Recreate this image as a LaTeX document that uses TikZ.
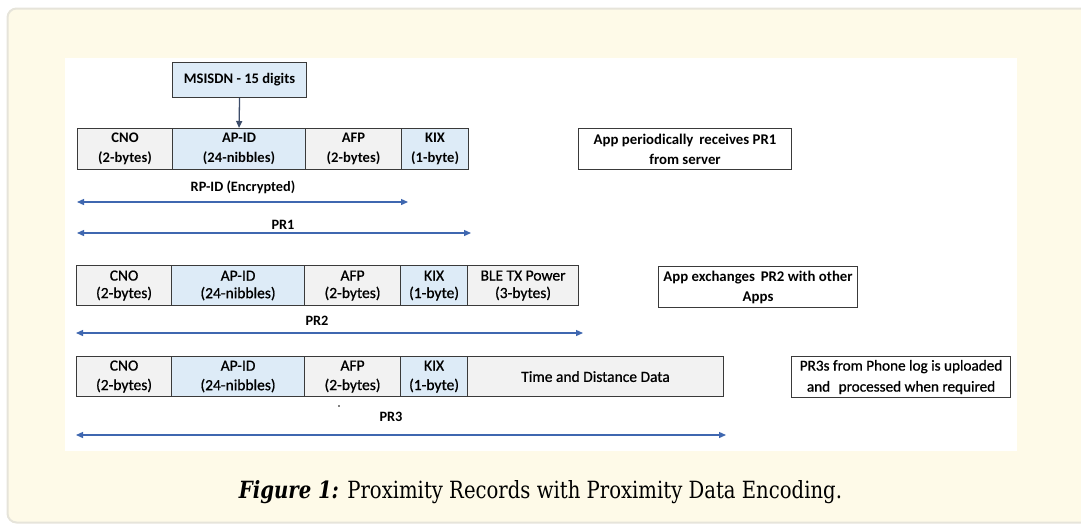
\documentclass[tikz,border=0pt]{standalone}
\usepackage{fontspec}
\usepackage{graphicx}
\setmainfont{Carlito}
\newfontfamily\semib[FakeBold=0.8]{Carlito}
\newfontfamily\capfont{DejaVu Serif}
\usetikzlibrary{arrows.meta}
\definecolor{cream}{HTML}{FEFAE8}
\definecolor{cardline}{HTML}{E6E4DA}
\definecolor{cellgray}{HTML}{F2F2F2}
\definecolor{cellblue}{HTML}{DDEBF7}
\definecolor{edge}{HTML}{3A3A3A}
\definecolor{arrblue}{HTML}{3F67B0}
\tikzset{
  cellbase/.style={draw=edge, line width=1.1pt, inner sep=0pt, anchor=north west, align=center,
    font=\semib\fontsize{15.5}{19.5}\selectfont},
  cg/.style={cellbase, fill=cellgray},
  cb/.style={cellbase, fill=cellblue},
  bcell/.style={font=\bfseries\fontsize{14.6}{19.5}\selectfont},
  tight/.style={font=\semib\fontsize{15.5}{17.5}\selectfont},
  note/.style={draw=edge, line width=1.1pt, fill=white, inner sep=0pt, anchor=north west, align=center,
    font=\bfseries\fontsize{14.8}{20}\selectfont},
  lbl/.style={font=\bfseries\fontsize{14.3}{16}\selectfont, inner sep=0pt},
  arr/.style={draw=arrblue, line width=1.3pt, -{Triangle[length=7pt,width=6pt]}},
  darr/.style={draw=arrblue, line width=1.3pt, {Triangle[length=7pt,width=6pt]}-{Triangle[length=7pt,width=6pt]}},
}
\begin{document}
\begin{tikzpicture}[x=1pt,y=-1pt]
\useasboundingbox (0,0) rectangle (1081,525);
\begin{scope}
\clip (0,0) rectangle (1081,525);
\draw[fill=cream, draw=cardline, line width=2pt, rounded corners=9pt] (7.5,8.5) rectangle (1100,522.5);
\end{scope}
\fill[white] (65,58) rectangle (1017,451);

% MSISDN
\node[cb, bcell, minimum width=134, minimum height=35] (ms) at (172,62) {MSISDN - 15 digits};

% Row 1
\node[cg, bcell, minimum width=95, minimum height=41] (cno1) at (77,128) {CNO\\(2-bytes)};
\node[cb, bcell, minimum width=133, minimum height=41] (ap1) at (172,128) {AP-ID\\(24-nibbles)};
\node[cg, bcell, minimum width=96, minimum height=41] (afp1) at (305,128) {AFP\\(2-bytes)};
\node[cb, bcell, minimum width=67, minimum height=41] (kix1) at (401,128) {KIX\\(1-byte)};
\draw[arr, draw=edge!60!arrblue] (ms.south) -- (ap1.north);

\node[note, minimum width=213, minimum height=41] (n1) at (578,128) {App periodically\, receives PR1\\from server};

\node[lbl] (rp) at (243,187) {RP-ID (Encrypted)};
\coordinate (rpL) at (77,202);
\coordinate (rpR) at (408,202);
\draw[darr] (rpL) -- (rpR);
\node[lbl] (pr1) at (283,225) {PR1};
\coordinate (p1L) at (77,233);
\coordinate (p1R) at (471,233);
\draw[darr] (p1L) -- (p1R);

% Row 2
\node[cg, tight, minimum width=95, minimum height=40] (cno2) at (76,265) {CNO\\(2-bytes)};
\node[cb, tight, minimum width=133, minimum height=40] (ap2) at (171,265) {AP-ID\\(24-nibbles)};
\node[cg, tight, minimum width=96, minimum height=40] (afp2) at (304,265) {AFP\\(2-bytes)};
\node[cb, tight, minimum width=67, minimum height=40] (kix2) at (400,265) {KIX\\(1-byte)};
\node[cg, tight, minimum width=111, minimum height=40] (ble2) at (467,265) {BLE TX Power\\(3-bytes)};

\node[note, minimum width=199, minimum height=41] (n2) at (658,266) {App exchanges\, PR2 with other\\Apps};

\node[lbl] (pr2) at (317,321) {PR2};
\coordinate (p2L) at (76,333);
\coordinate (p2R) at (583,333);
\draw[darr] (p2L) -- (p2R);

% Row 3
\node[cg, minimum width=95, minimum height=40] (cno3) at (76,356) {CNO\\(2-bytes)};
\node[cb, minimum width=133, minimum height=40] (ap3) at (171,356) {AP-ID\\(24-nibbles)};
\node[cg, minimum width=96, minimum height=40] (afp3) at (304,356) {AFP\\(2-bytes)};
\node[cb, minimum width=67, minimum height=40] (kix3) at (400,356) {KIX\\(1-byte)};
\node[cg, minimum width=256, minimum height=40] (td3) at (467,356) {Time and Distance Data};

\node[note, minimum width=219, minimum height=41, font=\semib\fontsize{15.2}{21}\selectfont] (n3) at (791,356) {PR3s from Phone log is uploaded\\and\,\, processed when required};

\fill (339,406) circle (0.9);
\node[lbl] (pr3) at (391,417) {PR3};
\coordinate (p3L) at (76,435);
\coordinate (p3R) at (726,435);
\draw[darr] (p3L) -- (p3R);

% Caption
\node[inner sep=0pt, anchor=base] (cap) at (540.5,498) {\resizebox{603pt}{18pt}{\capfont\fontsize{20}{24}\selectfont\textbf{\textit{Figure 1:}} Proximity Records with Proximity Data Encoding.}};
\end{tikzpicture}
\end{document}
